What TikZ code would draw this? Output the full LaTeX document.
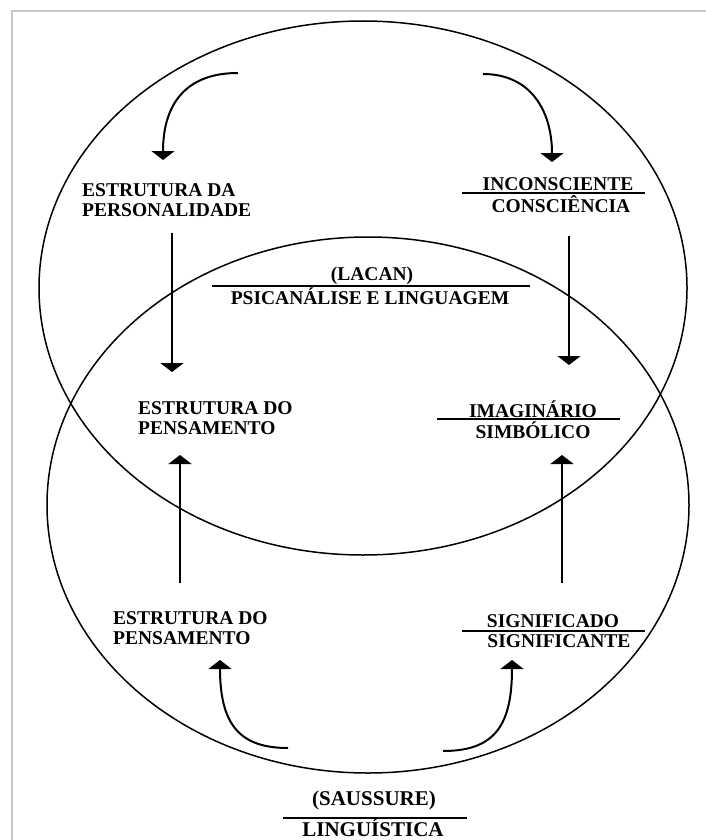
\documentclass[tikz,border=0pt]{standalone}
\usepackage{fontspec}
\setmainfont{Liberation Serif}
\usetikzlibrary{arrows.meta,shapes.geometric,positioning}

\begin{document}
\begin{tikzpicture}[x=1pt,y=-1pt,
	lbl/.style={font=\fontsize{19.5}{19.5}\selectfont\bfseries,inner sep=0pt},
	ring/.style={draw,ellipse,line width=1.5pt,inner sep=0pt},
	arr/.style={line width=2pt,-{Triangle[width=23pt,length=9pt]}},
	fracrule/.style={line width=1.3pt}]
	\useasboundingbox (0,0) rectangle (706,840);
	% frame
	\coordinate (fTL) at (12,11);
	\coordinate (fTR) at (706,11);
	\coordinate (fBL) at (12,840);
	\draw[black!22,line width=1.5pt] (fBL) -- (fTL) -- (fTR);

	% the two sets
	\node[ring,minimum width=648pt,minimum height=534pt] (lacan) at (363,288) {};
	\node[ring,minimum width=642pt,minimum height=536pt] (saussure) at (368,505) {};

	% upper labels
	\node[lbl,align=left,anchor=west] (estpers) at (82,200) {ESTRUTURA DA\\PERSONALIDADE};
	\node[lbl] (incons) at (558,184) {INCONSCIENTE};
	\node[lbl] (consc) at (561,204) {CONSCIÊNCIA};
	\coordinate (inconsL) at (462,193);
	\coordinate (inconsR) at (645,193);
	\draw[fracrule] (inconsL) -- (inconsR);

	\node[lbl] (lacanname) at (372,276) {(LACAN)};
	\node[lbl] (psic) at (370,296) {PSICANÁLISE E LINGUAGEM};
	\coordinate (lacanL) at (212,286);
	\coordinate (lacanR) at (530,286);
	\draw[fracrule] (lacanL) -- (lacanR);

	% middle labels
	\node[lbl,align=left,anchor=west] (estpens) at (138,418) {ESTRUTURA DO\\PENSAMENTO};
	\node[lbl] (imag) at (533,409) {IMAGINÁRIO};
	\node[lbl] (simb) at (533,430) {SIMBÓLICO};
	\coordinate (imagL) at (437,419);
	\coordinate (imagR) at (620,419);
	\draw[fracrule] (imagL) -- (imagR);

	% lower labels
	\node[lbl,align=left,anchor=west] (estpensb) at (113,628) {ESTRUTURA DO\\PENSAMENTO};
	\node[lbl] (signdo) at (553,621) {SIGNIFICADO};
	\node[lbl] (signte) at (559,641) {SIGNIFICANTE};
	\coordinate (signL) at (462,631);
	\coordinate (signR) at (645,631);
	\draw[fracrule] (signL) -- (signR);

	\node[lbl,font=\fontsize{21}{21}\selectfont\bfseries] (saussname) at (374,800) {(SAUSSURE)};
	\node[lbl,font=\fontsize{21}{21}\selectfont\bfseries] (ling) at (373,828) {LINGUÍSTICA};
	\coordinate (saussL) at (283,818);
	\coordinate (saussR) at (467,818);
	\draw[fracrule] (saussL) -- (saussR);

	% arrows
	\coordinate (tlS) at (238,73);
	\coordinate (tlE) at (163,160);
	\coordinate (trS) at (483,74);
	\coordinate (trE) at (552,162);
	\coordinate (vlS) at (172,233);
	\coordinate (vlE) at (172,372);
	\coordinate (vrS) at (569,236);
	\coordinate (vrE) at (569,365);
	\coordinate (ulS) at (180,583);
	\coordinate (ulE) at (180,455);
	\coordinate (urS) at (562,583);
	\coordinate (urE) at (562,455);
	\coordinate (blS) at (288,748);
	\coordinate (blE) at (220,660);
	\coordinate (brS) at (443,751);
	\coordinate (brE) at (512,660);

	\draw[arr] (tlS) .. controls (185,73) and (163,105) .. (tlE);
	\draw[arr] (trS) .. controls (530,74) and (552,110) .. (trE);
	\draw[arr] (vlS) -- (vlE);
	\draw[arr] (vrS) -- (vrE);
	\draw[arr] (ulS) -- (ulE);
	\draw[arr] (urS) -- (urE);
	\draw[arr] (blS) .. controls (240,748) and (220,725) .. (blE);
	\draw[arr] (brS) .. controls (495,751) and (512,725) .. (brE);
\end{tikzpicture}
\end{document}
